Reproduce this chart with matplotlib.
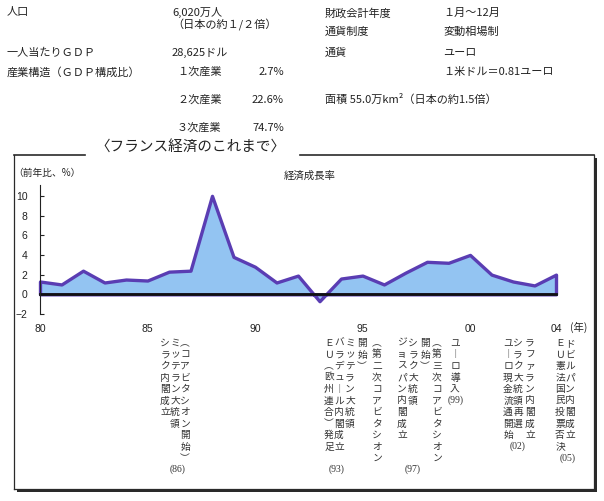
import matplotlib
matplotlib.use('Agg')
import matplotlib.pyplot as plt
from matplotlib.patches import Rectangle

plt.rcParams['font.family'] = ['Noto Sans CJK JP', 'DejaVu Sans']

# --- chart data ---
years = list(range(1980, 2005))
growth = [1.3, 1.0, 2.4, 1.2, 1.5, 1.4, 2.3, 2.4, 10.0, 3.8, 2.8, 1.2, 1.9, -0.7,
          1.6, 1.9, 1.0, 2.2, 3.3, 3.2, 4.0, 2.0, 1.3, 0.9, 2.0]
xtick_years = [1980, 1985, 1990, 1995, 2000, 2004]
xtick_labels = ['80', '85', '90', '95', '00', '04']
yticks = [-2, 0, 2, 4, 6, 8, 10]

# --- profile texts ---
left_items = ['人口', '一人当たりＧＤＰ', '産業構造（ＧＤＰ構成比）']
left_values = ['6,020万人', '（日本の約１/２倍）', '28,625ドル']
sectors = ['１次産業', '２次産業', '３次産業']
sector_shares = ['2.7%', '22.6%', '74.7%']
right_items = ['財政会計年度', '通貨制度', '通貨', '面積 55.0万km²（日本の約1.5倍）']
right_values = ['１月～12月', '変動相場制', 'ユーロ', '１米ドル＝0.81ユーロ']

# --- events (columns listed left to right) ---
event_years = ['(86)', '(93)', '(97)', '(99)', '(02)', '(05)']
event_columns = [
    ['シラク内閣成立', 'ミッテラン大統領', '（コアビタシオン開始）'],
    ['ＥＵ（欧州連合）発足', 'バラデュール内閣成立', 'ミッテラン大統領', '開始）', '（第二次コアビタシオン'],
    ['ジョスパン内閣成立', 'シラク大統領', '開始）', '（第三次コアビタシオン'],
    ['ユーロ導入'],
    ['ユーロ現金流通開始', 'シラク大統領再選', 'ラファラン内閣成立'],
    ['ＥＵ憲法国民投票否決', 'ドビルパン内閣成立'],
]

# layout (pixels)
event_col_x = [[165, 175, 185], [329, 339, 350, 362, 377], [402, 413, 425, 437],
               [455], [508, 518, 530], [560, 570]]
event_label_x = [178, 337, 413, 456, 518, 568]
col_top = 343
pitch = 11.5

W, H = 604, 501
fig = plt.figure(figsize=(W / 100, H / 100), dpi=100)

# full-figure pixel axes for box and texts
lay = fig.add_axes([0, 0, 1, 1], zorder=0)
lay.set_xlim(0, W)
lay.set_ylim(H, 0)
lay.axis('off')

txt = '#222222'
fs = 8

# profile block
lay.text(7, 12, left_items[0], fontsize=fs, va='center', color=txt)
lay.text(172, 12, left_values[0], fontsize=fs, va='center', color=txt)
lay.text(172, 25, left_values[1], fontsize=fs, va='center', color=txt)
lay.text(7, 53, left_items[1], fontsize=fs, va='center', color=txt)
lay.text(172, 53, left_values[2], fontsize=fs, va='center', color=txt)
lay.text(7, 72, left_items[2], fontsize=fs, va='center', color=txt)
for s, v, y in zip(sectors, sector_shares, [72, 100, 128]):
    lay.text(177, y, s, fontsize=fs, va='center', color=txt)
    lay.text(284, y, v, fontsize=fs, va='center', ha='right', color=txt)

for item, y in zip(right_items[:3], [13, 32, 53]):
    lay.text(325, y, item, fontsize=fs, va='center', color=txt)
for val, y in zip(right_values, [13, 32, 53, 72]):
    lay.text(443, y, val, fontsize=fs, va='center', color=txt)
lay.text(325, 99, right_items[3], fontsize=fs, va='center', color=txt)

# framed box with shadow
lay.add_patch(Rectangle((17, 158), 580, 334, facecolor='#2a2a2a', edgecolor='none'))
lay.add_patch(Rectangle((14, 155), 580, 334, facecolor='white', edgecolor='none'))
lc = '#2a2a2a'
lay.plot([14, 14], [155, 489], color=lc, lw=0.9)
lay.plot([14, 594], [489, 489], color=lc, lw=0.9)
lay.plot([594, 594], [155, 489], color=lc, lw=0.9)
lay.plot([14, 85], [155, 155], color=lc, lw=1.2)
lay.plot([300, 594], [155, 155], color=lc, lw=1.2)
lay.text(190, 148, '〈フランス経済のこれまで〉', fontsize=10.5, ha='center', va='center', color=txt)

lay.text(13, 173, '（前年比、%）', fontsize=7, va='center', color=txt)
lay.text(310, 176, '経済成長率', fontsize=7.5, ha='center', va='center', color=txt)
lay.text(579, 327, '(年)', fontsize=7.5, ha='center', va='center', color=txt)

# vertical event texts
vert = {'（': '︵', '）': '︶', 'ー': '︱'}
for cols, xs, lx, lab in zip(event_columns, event_col_x, event_label_x, event_years):
    for col, x in zip(cols, xs):
        for i, ch in enumerate(col):
            lay.text(x, col_top + i * pitch, vert.get(ch, ch), fontsize=7,
                     ha='center', va='center', color='#333333')
    n = max(len(c) for c in cols)
    lay.text(lx, col_top + n * pitch, lab, fontsize=7, ha='center', va='center',
             color='#333333', family='Liberation Serif')

# growth chart
ax = fig.add_axes([40 / W, 1 - 314 / H, (556 - 40) / W, (314 - 185) / H], zorder=1)
ax.patch.set_alpha(0)
ax.fill_between(years, growth, 0, facecolor='#93c4f2', edgecolor='#5a3db3',
                linewidth=2.4, zorder=1.5, clip_on=False)
ax.plot([years[0], years[-1]], [0, 0], color='#111111', lw=2, zorder=3, clip_on=False)
ax.set_xlim(1980, 2004)
ax.set_ylim(-2, 11.1)
for side in ['top', 'right', 'bottom']:
    ax.spines[side].set_visible(False)
ax.spines['left'].set_color('#222222')
ax.spines['left'].set_linewidth(0.8)
ax.spines['left'].set_zorder(4)
ax.set_yticks(yticks)
ax.tick_params(axis='y', direction='in', length=3, width=0.8, pad=9, labelsize=7.5,
               colors='#222222')
ax.set_xticks(xtick_years, xtick_labels)
ax.tick_params(axis='x', length=0, pad=7, labelsize=7.5, colors='#222222')
for lbl in ax.get_xticklabels() + ax.get_yticklabels():
    lbl.set_family('Liberation Sans')

fig.savefig('out.png', dpi=100)
